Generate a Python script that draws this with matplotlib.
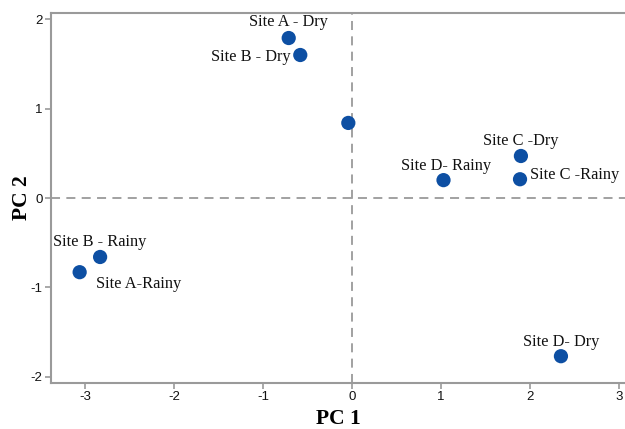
import matplotlib
matplotlib.use("Agg")
import matplotlib.pyplot as plt

plt.rcParams["axes.unicode_minus"] = False

labels = ["Site A - Dry", "Site B - Dry", "", "Site C -Dry", "Site C -Rainy",
          "Site D- Rainy", "Site B - Rainy", "Site A-Rainy", "Site D- Dry"]
pc1 = [-0.71, -0.58, -0.04, 1.90, 1.89, 1.03, -2.83, -3.06, 2.35]
pc2 = [1.79, 1.60, 0.84, 0.47, 0.21, 0.20, -0.66, -0.83, -1.77]
# label offsets in pixels and alignment
offsets = [(0, 16, "center"), (-10, -2, "right"), (0, 0, "center"), (0, 15, "center"),
           (10, 4, "left"), (3, 14, "center"), (0, 15, "center"), (16, -12, "left"),
           (0, 14, "center")]
xticks = [-3, -2, -1, 0, 1, 2, 3]
yticks = [-2, -1, 0, 1, 2]

fig = plt.figure(figsize=(6.25, 4.29), dpi=100)
ax = fig.add_axes([0.0816, 0.1072, 0.9184, 0.8625])
ax.set_xlim(-3.382, 3.07)
ax.set_ylim(-2.07, 2.07)

gray = "#9a9a9a"
ax.axhline(0, color=gray, lw=1.3, ls=(0, (5, 3.5)), zorder=1)
ax.axvline(0, color=gray, lw=1.3, ls=(0, (5, 3.5)), zorder=1)

ax.scatter(pc1, pc2, s=105, color="#0d4fa3", zorder=3, edgecolors="none")

for x, y, lab, (dx, dy, ha) in zip(pc1, pc2, labels, offsets):
    if lab:
        ax.annotate(lab, (x, y), xytext=(dx, dy), textcoords="offset points" if False else "offset pixels",
                    ha=ha, va="center",
                    fontsize=11.8, family="Liberation Serif", color="#111111")

ax.spines["right"].set_visible(False)
for side in ["left", "bottom", "top"]:
    ax.spines[side].set_color(gray)
    ax.spines[side].set_linewidth(1.5)

ax.set_xticks(xticks)
ax.set_yticks(yticks)
ax.tick_params(axis="both", colors=gray, length=4, width=1.2, labelsize=9.5,
               labelcolor="#111111", pad=2)
for t in ax.get_xticklabels() + ax.get_yticklabels():
    t.set_family("Liberation Sans")

ax.set_xlabel("PC 1", fontsize=15.5, fontweight="bold", family="Liberation Serif", labelpad=4)
ax.set_ylabel("PC 2", fontsize=15.5, fontweight="bold", family="Liberation Serif", labelpad=-1)

fig.savefig("out.png", dpi=100, facecolor="white")
